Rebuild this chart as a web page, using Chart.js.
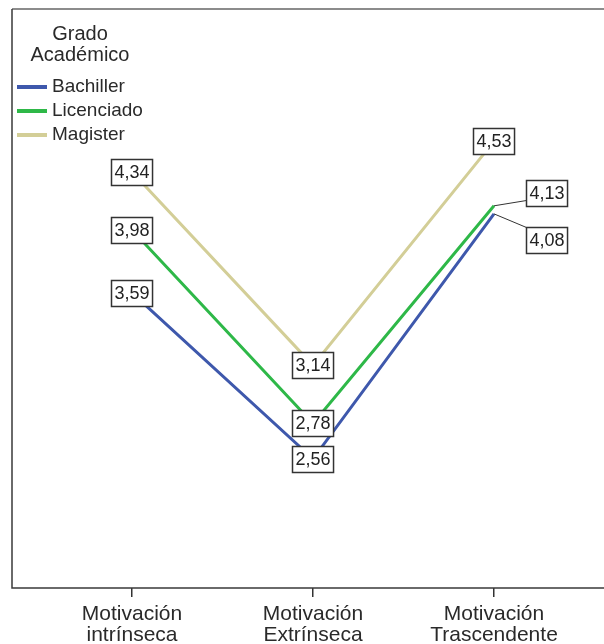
<!DOCTYPE html>
<html>
<head>
<meta charset="utf-8">
<script src="https://cdn.jsdelivr.net/npm/chart.js@4"></script>
<style>
  html, body { margin: 0; padding: 0; background: #fff; overflow: hidden; }
  #wrap { position: relative; width: 626px; height: 644px; }
</style>
</head>
<body>
<div id="wrap"><canvas id="myGrafic"></canvas></div>
<script>
// Categorias del eje X
let categorias = [
  ['Motivación', 'intrínseca'],
  ['Motivación', 'Extrínseca'],
  ['Motivación', 'Trascendente']
];
// Series (medias por grado academico)
let grupos = ['Bachiller', 'Licenciado', 'Magister'];
let bachiller = [3.59, 2.56, 4.08];
let licenciado = [3.98, 2.78, 4.13];
let magister = [4.34, 3.14, 4.53];
let colores = ['#3E58AC', '#2EB848', '#D3CE97'];
let tituloLeyenda = ['Grado', 'Académico'];

let series = [bachiller, licenciado, magister];
let familia = '"Liberation Sans", Arial, sans-serif';

// desplazamiento de etiquetas que se solapan (dataset-punto) -> dx, dy
let desplazamientos = {
  '0-2': [53, 26],
  '1-2': [53, -13]
};

// Marco del grafico (izquierda, arriba, abajo)
let marco = {
  id: 'marco',
  beforeDatasetsDraw(chart) {
    let a = chart.chartArea;
    let ctx = chart.ctx;
    ctx.save();
    ctx.lineWidth = 1.5;
    ctx.strokeStyle = '#666';
    ctx.beginPath();
    ctx.moveTo(a.right, a.top);
    ctx.lineTo(a.left, a.top);
    ctx.stroke();
    ctx.strokeStyle = '#3a3a3a';
    ctx.beginPath();
    ctx.moveTo(a.left, a.top);
    ctx.lineTo(a.left, a.bottom);
    ctx.lineTo(a.right, a.bottom);
    ctx.stroke();
    ctx.restore();
  }
};

// Etiquetas en cajas con los valores
let etiquetas = {
  id: 'etiquetas',
  afterDatasetsDraw(chart) {
    let ctx = chart.ctx;
    ctx.save();
    ctx.font = '18px ' + familia;
    ctx.textAlign = 'center';
    ctx.textBaseline = 'middle';
    chart.data.datasets.forEach((ds, d) => {
      let meta = chart.getDatasetMeta(d);
      meta.data.forEach((pt, i) => {
        let txt = ds.data[i].y.toFixed(2).replace('.', ',');
        let off = desplazamientos[d + '-' + i] || [0, 0];
        let cx = pt.x + off[0];
        let cy = pt.y + off[1];
        let w = ctx.measureText(txt).width + 6;
        let h = 26;
        let x0 = Math.round(cx - w / 2) + 0.5;
        let y0 = Math.round(cy - h / 2) + 0.5;
        if (off[0] !== 0) {
          // linea guia
          let ly = Math.max(y0, Math.min(y0 + h - 6, pt.y));
          ctx.strokeStyle = '#333';
          ctx.lineWidth = 1;
          ctx.beginPath();
          ctx.moveTo(pt.x, pt.y);
          ctx.lineTo(x0, ly);
          ctx.stroke();
        }
        ctx.fillStyle = '#fff';
        ctx.fillRect(x0, y0, w, h);
        ctx.strokeStyle = '#333';
        ctx.lineWidth = 1.5;
        ctx.strokeRect(x0, y0, w, h);
        ctx.fillStyle = '#222';
        ctx.fillText(txt, cx, cy + 1);
      });
    });
    ctx.restore();
  }
};

// Leyenda dentro del area
let leyenda = {
  id: 'leyenda',
  afterDraw(chart) {
    let ctx = chart.ctx;
    ctx.save();
    ctx.fillStyle = '#2a2a2a';
    ctx.font = '20px ' + familia;
    ctx.textAlign = 'center';
    ctx.textBaseline = 'alphabetic';
    ctx.fillText(tituloLeyenda[0], 80, 40);
    ctx.fillText(tituloLeyenda[1], 80, 61);
    ctx.font = '19px ' + familia;
    ctx.textAlign = 'left';
    ctx.textBaseline = 'middle';
    chart.data.datasets.forEach((ds, d) => {
      let y = 87 + d * 24;
      ctx.strokeStyle = ds.borderColor;
      ctx.lineWidth = 4;
      ctx.beginPath();
      ctx.moveTo(17, y);
      ctx.lineTo(47, y);
      ctx.stroke();
      ctx.fillStyle = '#2a2a2a';
      ctx.fillText(ds.label, 52, y);
    });
    ctx.restore();
  }
};

let myChart = {
  type: 'line',
  data: {
    datasets: grupos.map((g, d) => ({
      label: g,
      data: series[d].map((v, i) => ({ x: i, y: v })),
      borderColor: colores[d],
      backgroundColor: colores[d],
      borderWidth: 3,
      pointRadius: 0,
      tension: 0
    }))
  },
  options: {
    responsive: true,
    maintainAspectRatio: false,
    animation: false,
    layout: { padding: { left: 12, top: 9, right: 12, bottom: 0 } },
    plugins: {
      legend: { display: false },
      tooltip: { enabled: false }
    },
    scales: {
      x: {
        type: 'linear',
        min: -0.663,
        max: 2.663,
        afterBuildTicks(scale) {
          scale.ticks = categorias.map((c, i) => ({ value: i }));
        },
        afterFit(scale) { scale.height = 56; },
        border: { display: false },
        grid: {
          drawOnChartArea: false,
          drawTicks: true,
          tickLength: 9,
          color: '#333',
          lineWidth: 1.5
        },
        ticks: {
          autoSkip: false,
          maxRotation: 0,
          padding: 7,
          color: '#2a2a2a',
          font: { family: familia, size: 21, lineHeight: 1.0 },
          callback: (v) => categorias[v]
        }
      },
      y: {
        display: false,
        min: 1.759,
        max: 5.351
      }
    }
  },
  plugins: [marco, etiquetas, leyenda]
};

var myGrafic = document.getElementById('myGrafic');
window.grafico = new Chart(myGrafic, myChart);
</script>
</body>
</html>
